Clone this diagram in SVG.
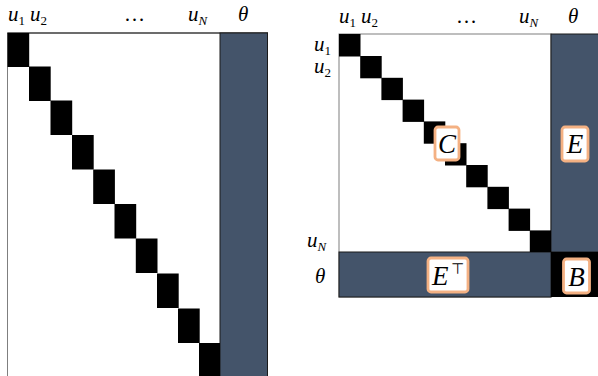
<svg xmlns="http://www.w3.org/2000/svg" width="598" height="376" viewBox="0 0 598 376">
<defs>
<style>
.m{font-family:"Liberation Serif","DejaVu Serif",serif;font-style:italic;fill:#000}
.h{font-size:21px}
.s{font-size:13px}
.up{font-style:normal}
.big{font-size:27px}
.blk{fill:#000}
.dk{fill:#44546A;stroke:#1a1a1a;stroke-width:1}
.lbl{fill:#fff;stroke:#F4B183;stroke-width:2.8}
.frame{fill:#fff;stroke:#7f7f7f;stroke-width:1}
</style>
</defs>
<rect width="598" height="376" fill="#fff"/>
<!-- Left matrix -->
<g id="left-matrix">
<rect class="frame" x="7.5" y="33" width="260" height="360"/>
<line x1="7.5" y1="33" x2="268" y2="33" stroke="#1a1a1a" stroke-width="1"/>
<rect class="dk" x="220" y="33" width="47.5" height="360"/>
<g id="left-diagonal">
<rect class="blk" x="7.5" y="33" width="21.7" height="34"/>
<rect class="blk" x="29" y="66.5" width="21.7" height="34.5"/>
<rect class="blk" x="50.5" y="100.5" width="21.7" height="34.5"/>
<rect class="blk" x="72" y="135" width="21.7" height="34.5"/>
<rect class="blk" x="93.2" y="169.5" width="21.7" height="34.5"/>
<rect class="blk" x="114.5" y="204" width="21.7" height="34.5"/>
<rect class="blk" x="135.8" y="238.5" width="21.7" height="34.5"/>
<rect class="blk" x="157" y="273.5" width="21.7" height="34.5"/>
<rect class="blk" x="178" y="308.5" width="21.7" height="34.5"/>
<rect class="blk" x="199" y="343" width="21" height="40"/>
</g>
<g id="left-header">
<text class="m h" x="8" y="21">u<tspan class="s up" dy="4">1</tspan></text>
<text class="m h" x="30" y="21">u<tspan class="s up" dy="4">2</tspan></text>
<text class="m h up" x="124" y="21">…</text>
<text class="m h" x="188" y="21">u<tspan class="s" dy="4">N</tspan></text>
<text class="m h" x="238" y="21">θ</text>
</g>
</g>
<!-- Right matrix -->
<g id="right-matrix">
<rect class="frame" x="339" y="34" width="212" height="263"/>
<rect class="dk" x="551" y="34" width="50" height="218"/>
<rect class="dk" x="339" y="252" width="212" height="45"/>
<rect x="551" y="252" width="50" height="45" fill="#000"/>
<g id="right-diagonal">
<rect class="blk" x="339" y="34" width="21.5" height="22.5"/>
<rect class="blk" x="360.2" y="56" width="21.5" height="22.3"/>
<rect class="blk" x="381.4" y="77.8" width="21.5" height="22.3"/>
<rect class="blk" x="402.6" y="99.6" width="21.5" height="22.3"/>
<rect class="blk" x="423.8" y="121.4" width="21.5" height="22.3"/>
<rect class="blk" x="445" y="143.2" width="21.5" height="22.3"/>
<rect class="blk" x="466.2" y="165" width="21.5" height="22.3"/>
<rect class="blk" x="487.4" y="186.8" width="21.5" height="22.3"/>
<rect class="blk" x="508.6" y="208.6" width="21.5" height="22.3"/>
<rect class="blk" x="529.8" y="230.4" width="21.2" height="21.6"/>
</g>
<g id="right-header">
<text class="m h" x="339" y="23">u<tspan class="s up" dy="4">1</tspan></text>
<text class="m h" x="361" y="23">u<tspan class="s up" dy="4">2</tspan></text>
<text class="m h up" x="456" y="23">…</text>
<text class="m h" x="519" y="23">u<tspan class="s" dy="4">N</tspan></text>
<text class="m h" x="568" y="23">θ</text>
</g>
<g id="right-rows">
<text class="m h" x="314" y="51">u<tspan class="s up" dy="4">1</tspan></text>
<text class="m h" x="314" y="73">u<tspan class="s up" dy="4">2</tspan></text>
<text class="m h" x="307" y="247">u<tspan class="s" dy="4">N</tspan></text>
<text class="m h" x="315" y="283">θ</text>
</g>
<g id="label-C">
<rect class="lbl" x="435" y="127" width="24" height="33" rx="3"/>
<text class="m big" x="447" y="153" text-anchor="middle">C</text>
</g>
<g id="label-E">
<rect class="lbl" x="562" y="127" width="26" height="34" rx="3"/>
<text class="m big" x="575" y="153" text-anchor="middle">E</text>
</g>
<g id="label-ET">
<rect class="lbl" x="428" y="258" width="40" height="34" rx="3"/>
<text class="m big" x="432" y="285">E</text>
<text x="451" y="274" style="font-family:'DejaVu Sans',sans-serif;font-size:15px">⊤</text>
</g>
<g id="label-B">
<rect class="lbl" x="563.5" y="259" width="26" height="34" rx="3"/>
<text class="m big" x="576.5" y="286" text-anchor="middle">B</text>
</g>
</g>
</svg>
